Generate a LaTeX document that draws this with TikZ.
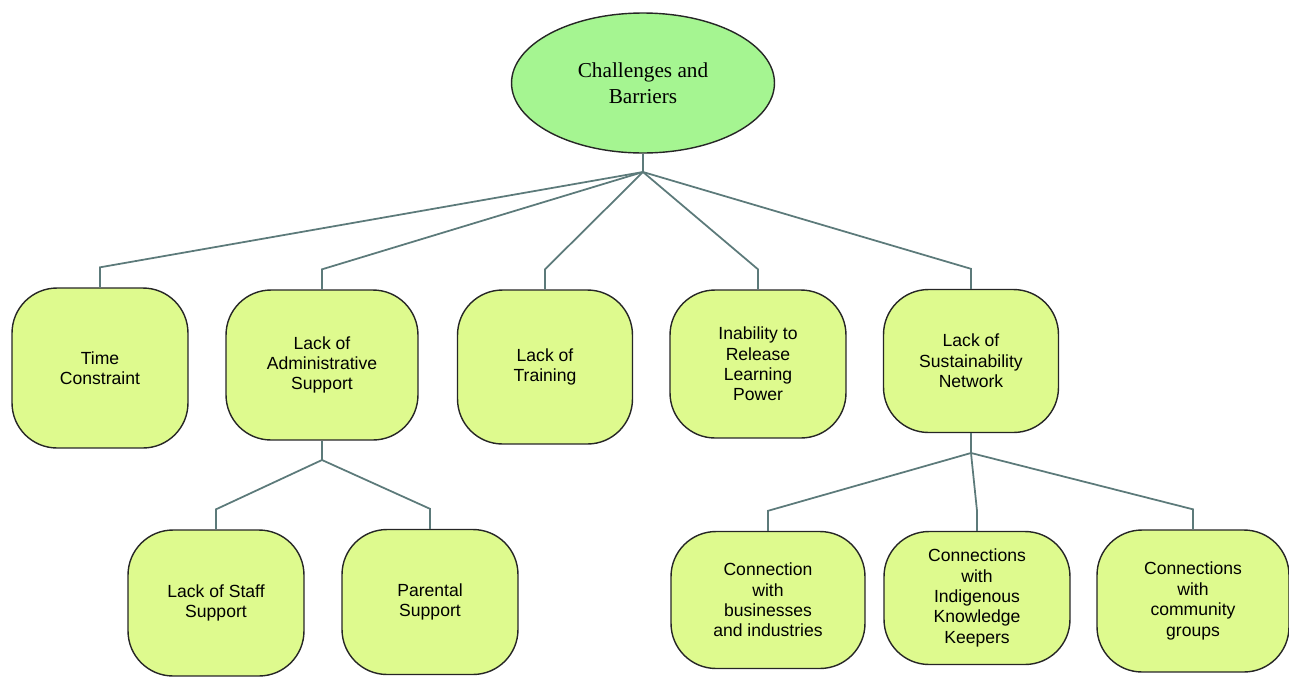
\documentclass[tikz,border=0pt]{standalone}
\usepackage{fontspec}
\setmainfont{Liberation Sans}
\newfontfamily\titlefont{Liberation Serif}
\usepackage{tikz}
\usetikzlibrary{shapes.geometric}
\usetikzlibrary{positioning}
\definecolor{linkgray}{RGB}{92,122,122}
\definecolor{boxfill}{RGB}{222,250,142}
\definecolor{rootfill}{RGB}{165,245,145}

\begin{document}
\begin{tikzpicture}[x=0.02cm,y=-0.02cm,
  topic/.style={draw=black!85, fill=rootfill, ellipse, line width=0.8pt, inner sep=0pt,
    minimum width=5.26cm, minimum height=2.8cm, align=center,
    font=\titlefont\fontsize{12.1}{14.7}\selectfont},
  issue/.style={draw=black!85, fill=boxfill, rounded corners=0.9cm, line width=0.8pt,
    inner sep=0pt, align=center, font=\fontsize{10}{11.6}\selectfont},
  link/.style={draw=linkgray, line width=1pt}]

\useasboundingbox (0,0) rectangle (1289,677);

% top node
\node[topic] (root) at (643,83) {Challenges and\\Barriers};

% first row
\node[issue, minimum width=3.52cm, minimum height=3.2cm] (time) at (100,368) {Time\\Constraint};
\node[issue, minimum width=3.84cm, minimum height=3.0cm] (admin) at (322,365) {Lack of\\Administrative\\Support};
\node[issue, minimum width=3.5cm, minimum height=3.08cm] (training) at (545,367) {Lack of\\Training};
\node[issue, minimum width=3.52cm, minimum height=2.96cm] (inability) at (758,364) {Inability to\\Release\\Learning\\Power};
\node[issue, minimum width=3.5cm, minimum height=2.86cm] (sustain) at (971,361) {Lack of\\Sustainability\\Network};

% second row
\node[issue, minimum width=3.52cm, minimum height=2.92cm] (staff) at (216,603) {Lack of Staff\\Support};
\node[issue, minimum width=3.52cm, minimum height=2.9cm] (parental) at (430,602) {Parental\\Support};
\node[issue, minimum width=3.88cm, minimum height=2.74cm] (business) at (768,600) {Connection\\with\\businesses\\and industries};
\node[issue, minimum width=3.72cm, minimum height=2.66cm] (indigenous) at (977,598) {Connections\\with\\Indigenous\\Knowledge\\Keepers};
\node[issue, minimum width=3.84cm, minimum height=2.84cm] (community) at (1193,601) {Connections\\with\\community\\groups};

% connectors
\coordinate (hubA) at (643,172);
\coordinate (hubB) at (322,460);
\coordinate (hubC) at (971,453);

\draw[link] (root.south) -- (hubA);
\foreach \c in {time,admin,training,inability,sustain}
  \draw[link] (hubA) -- ([yshift=0.4cm]\c.north) -- (\c.north);

\draw[link] (admin.south) -- (hubB);
\foreach \c in {staff,parental}
  \draw[link] (hubB) -- ([yshift=0.4cm]\c.north) -- (\c.north);

\draw[link] (sustain.south) -- (hubC);
\foreach \c in {business,indigenous,community}
  \draw[link] (hubC) -- ([yshift=0.4cm]\c.north) -- (\c.north);

\end{tikzpicture}
\end{document}
